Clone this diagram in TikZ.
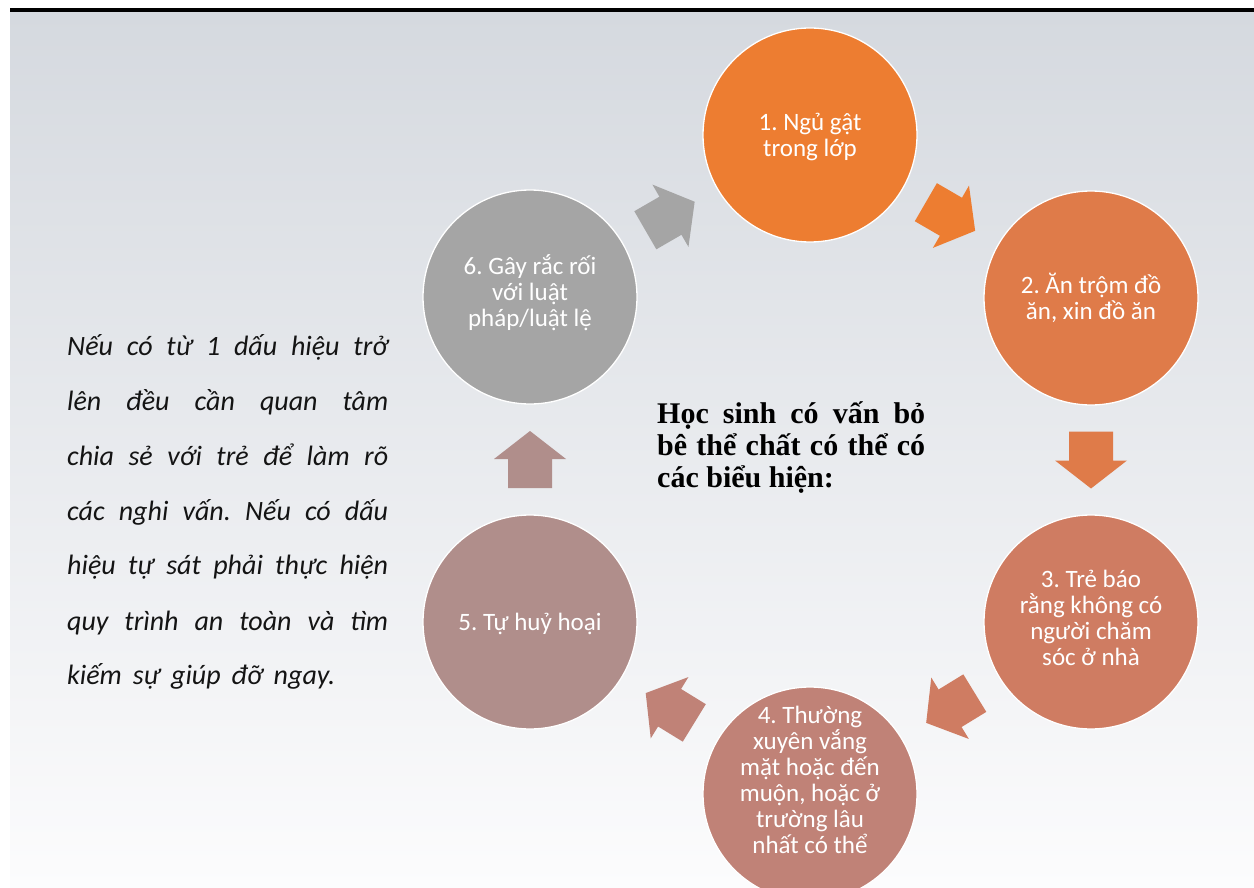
\documentclass[tikz,border=0pt]{standalone}
\usepackage{fontspec}
\setmainfont{Carlito}
\newfontfamily\serifbold{Liberation Serif}
\usetikzlibrary{calc}
\definecolor{bgtop}{RGB}{213,217,223}
\definecolor{bgbot}{RGB}{252,252,253}
\definecolor{cA}{RGB}{237,125,49}
\definecolor{cB}{RGB}{223,123,73}
\definecolor{cC}{RGB}{207,124,98}
\definecolor{cD}{RGB}{192,130,119}
\definecolor{cE}{RGB}{176,142,139}
\definecolor{cF}{RGB}{165,165,165}
\definecolor{notetext}{RGB}{20,20,20}
\begin{document}
\frenchspacing
\begin{tikzpicture}[x=1pt,y=1pt,
  circ/.style={circle, minimum size=214pt, inner sep=0pt, draw=white, line width=1.3pt},
  ctext/.style={text=white, align=center, font=\fontsize{25}{26}\selectfont, inner sep=0pt},
  cyclearrow/.style={midway, sloped, allow upside down},
  blockarrow/.pic={\fill[pic actions] (-28.5,-22) -- (0.5,-22) -- (0.5,-36) -- (28.5,0) -- (0.5,36) -- (0.5,22) -- (-28.5,22) -- cycle;}
]
\useasboundingbox (0,0) rectangle (1254,-888);
\fill[white] (0,0) rectangle (1254,-888);
\shade[top color=bgtop, bottom color=bgbot] (10,-12) rectangle (1254,-888);
\fill[black] (10,-8) rectangle (1254,-12.5);
\begin{scope}
\clip (0,0) rectangle (1254,-888);
\node[circ, fill=cA] (c1) at (810,-135) {};
\node[circ, fill=cB] (c2) at (1091,-298) {};
\node[circ, fill=cC] (c3) at (1091,-622) {};
\node[circ, fill=cD] (c4) at (810,-794) {};
\node[circ, fill=cE] (c5) at (530,-622) {};
\node[circ, fill=cF] (c6) at (530,-297) {};
\path (c6) -- pic[cyclearrow, fill=cF]{blockarrow} (c1);
\path (c1) -- pic[cyclearrow, fill=cA]{blockarrow} (c2);
\path (c2) -- pic[cyclearrow, fill=cB]{blockarrow} (c3);
\path (c3) -- pic[cyclearrow, fill=cC]{blockarrow} (c4);
\path (c4) -- pic[cyclearrow, fill=cD]{blockarrow} (c5);
\path (c5) -- pic[cyclearrow, fill=cE]{blockarrow} (c6);
\node[ctext] (t1) at (810,-137) {1. Ngủ gật\\trong lớp};
\node[ctext] (t2) at (1091,-298) {2. Ăn trộm đồ\\ăn, xin đồ ăn};
\node[ctext] (t3) at (1091,-618) {3. Trẻ báo\\rằng không có\\người chăm\\sóc ở nhà};
\node[ctext] (t4) at (810,-780) {4. Thường\\xuyên vắng\\mặt hoặc đến\\muộn, hoặc ở\\trường lâu\\nhất có thể};
\node[ctext] (t5) at (530,-624) {5. Tự huỷ hoại};
\node[ctext] (t6) at (530,-293) {6. Gây rắc rối\\với luật\\pháp/luật lệ};
\end{scope}
\node[anchor=base west, inner sep=0pt, text=notetext] (note) at (67,-355) {\parbox[t]{321pt}{\fontsize{28}{55}\selectfont\itshape
\makebox[321pt][s]{Nếu có từ 1 dấu hiệu trở}\\
\makebox[321pt][s]{lên đều cần quan tâm}\\
\makebox[321pt][s]{chia sẻ với trẻ để làm rõ}\\
\makebox[321pt][s]{các nghi vấn. Nếu có dấu}\\
\makebox[321pt][s]{hiệu tự sát phải thực hiện}\\
\makebox[321pt][s]{quy trình an toàn và tìm}\\
\makebox[268pt][s]{kiếm sự giúp đỡ ngay.}}};
\node[anchor=base west, inner sep=0pt] (title) at (657,-423) {\parbox[t]{268pt}{\serifbold\bfseries\fontsize{30}{32}\selectfont
\makebox[268pt][s]{Học sinh có vấn bỏ}\\
\makebox[268pt][s]{bê thể chất có thể có}\\
các biểu hiện:}};
\end{tikzpicture}
\end{document}
